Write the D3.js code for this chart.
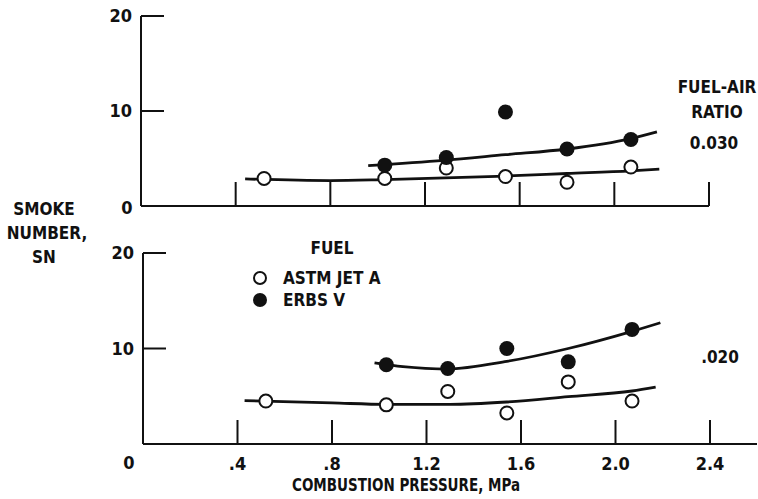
<!DOCTYPE html>
<html>
<head>
<meta charset="utf-8">
<script src="https://cdn.jsdelivr.net/npm/d3@7"></script>
<style>
  html, body { margin: 0; padding: 0; background: #fff; }
  svg text {
    font-family: "Liberation Sans Narrow", "DejaVu Sans Condensed", "Liberation Sans", sans-serif;
    font-weight: bold;
    fill: #111;
  }
</style>
</head>
<body>
<div id="chart"></div>
<script>
// measured points, combustion pressure (MPa) vs smoke number
const pressureAstm = [0.52, 1.03, 1.29, 1.54, 1.80, 2.07];
const pressureErbs = [1.03, 1.29, 1.54, 1.80, 2.07];

const smokeAstm030 = [2.9, 2.9, 4.0, 3.1, 2.5, 4.1];
const smokeErbs030 = [4.3, 5.1, 9.9, 6.0, 7.0];
const smokeAstm020 = [4.5, 4.1, 5.5, 3.25, 6.5, 4.5];
const smokeErbs020 = [8.3, 7.9, 10.0, 8.6, 12.0];

// faired curves
const fitAstm030X = [0.44, 0.8, 1.03, 1.54, 1.8, 2.07, 2.19];
const fitAstm030Y = [2.85, 2.68, 2.78, 3.15, 3.42, 3.7, 3.88];
const fitErbs030X = [0.96, 1.28, 1.54, 1.8, 2.07, 2.18];
const fitErbs030Y = [4.25, 4.8, 5.4, 6.0, 7.1, 7.8];
const fitAstm020X = [0.43, 0.8, 1.03, 1.3, 1.54, 1.8, 2.07, 2.17];
const fitAstm020Y = [4.55, 4.3, 4.15, 4.15, 4.4, 4.95, 5.55, 5.95];
const fitErbs020X = [0.98, 1.1, 1.285, 1.54, 1.8, 2.07, 2.19];
const fitErbs020Y = [8.5, 8.1, 7.85, 8.65, 10.0, 11.8, 12.7];

const xTicks = [0.4, 0.8, 1.2, 1.6, 2.0, 2.4];
const xTickLabels = [".4", ".8", "1.2", "1.6", "2.0", "2.4"];
const yTicks = [10, 20];

const width = 758, height = 499;

const svg = d3.select("#chart").append("svg")
    .attr("width", width)
    .attr("height", height);

const zip = (xs, ys) => xs.map((x, i) => [x, ys[i]]);

function drawPanel(opts) {
    const x = d3.scaleLinear().domain([0, 2.4]).range([opts.left, opts.right]);
    const y = d3.scaleLinear().domain([0, 20]).range([opts.bottom, opts.top]);
    const g = svg.append("g");

    // y axis line + inward ticks
    g.append("line")
        .attr("x1", x(0)).attr("x2", x(0))
        .attr("y1", y(20)).attr("y2", y(0))
        .attr("stroke", "#111").attr("stroke-width", 2);
    g.selectAll(".ytick").data(yTicks).join("line")
        .attr("x1", x(0)).attr("x2", x(0) + 23)
        .attr("y1", d => y(d)).attr("y2", d => y(d))
        .attr("stroke", "#111").attr("stroke-width", 2);
    g.selectAll(".ylab").data(yTicks).join("text")
        .attr("x", x(0) - 9).attr("y", d => y(d))
        .attr("dy", "0.36em")
        .attr("text-anchor", "end")
        .attr("font-size", 18)
        .text(d => d);

    // x axis line + upward ticks
    g.append("line")
        .attr("x1", x(0)).attr("x2", opts.axisEnd)
        .attr("y1", y(0)).attr("y2", y(0))
        .attr("stroke", "#111").attr("stroke-width", 2);
    g.selectAll(".xtick").data(xTicks).join("line")
        .attr("x1", d => x(d)).attr("x2", d => x(d))
        .attr("y1", y(0)).attr("y2", y(0) - 24)
        .attr("stroke", "#111").attr("stroke-width", 2);

    if (opts.xLabels) {
        g.selectAll(".xlab").data(xTicks).join("text")
            .attr("x", d => x(d)).attr("y", y(0) + 20)
            .attr("dy", "0.36em")
            .attr("text-anchor", "middle")
            .attr("font-size", 18)
            .text((d, i) => xTickLabels[i]);
    }
    g.append("text")
        .attr("x", x(0) - 14).attr("y", y(0) + opts.zeroDy)
        .attr("dy", "0.36em")
        .attr("text-anchor", "middle")
        .attr("font-size", 18)
        .text("0");

    const line = d3.line()
        .x(d => x(d[0])).y(d => y(d[1]))
        .curve(d3.curveMonotoneX);

    opts.fits.forEach(f => {
        g.append("path")
            .attr("d", line(f))
            .attr("fill", "none")
            .attr("stroke", "#111")
            .attr("stroke-width", 2.8);
    });

    g.selectAll(".astm").data(opts.astm).join("circle")
        .attr("cx", d => x(d[0])).attr("cy", d => y(d[1]))
        .attr("r", 6.5)
        .attr("fill", "#fff").attr("stroke", "#111").attr("stroke-width", 2);
    g.selectAll(".erbs").data(opts.erbs).join("circle")
        .attr("cx", d => x(d[0])).attr("cy", d => y(d[1]))
        .attr("r", 7.5)
        .attr("fill", "#111");
}

drawPanel({
    left: 141, right: 709, top: 16, bottom: 206, axisEnd: 709,
    xLabels: false, zeroDy: 2,
    fits: [zip(fitAstm030X, fitAstm030Y), zip(fitErbs030X, fitErbs030Y)],
    astm: zip(pressureAstm, smokeAstm030),
    erbs: zip(pressureErbs, smokeErbs030)
});

drawPanel({
    left: 143, right: 710, top: 253, bottom: 444, axisEnd: 757,
    xLabels: true, zeroDy: 19,
    fits: [zip(fitAstm020X, fitAstm020Y), zip(fitErbs020X, fitErbs020Y)],
    astm: zip(pressureAstm, smokeAstm020),
    erbs: zip(pressureErbs, smokeErbs020)
});

// y axis title
const yTitle = ["SMOKE", "NUMBER,", "SN"];
svg.selectAll(".ytitle").data(yTitle).join("text")
    .attr("x", (d, i) => i === 1 ? 47 : 44)
    .attr("y", (d, i) => 209 + i * 24)
    .attr("dy", "0.36em")
    .attr("text-anchor", "middle")
    .attr("font-size", 17)
    .text(d => d);

// x axis title
svg.append("text")
    .attr("x", 406).attr("y", 485)
    .attr("dy", "0.36em")
    .attr("text-anchor", "middle")
    .attr("font-size", 18)
    .attr("textLength", 228)
    .attr("lengthAdjust", "spacingAndGlyphs")
    .text("COMBUSTION PRESSURE, MPa");

// fuel-air ratio labels
const ratioLabels = [
    { t: "FUEL-AIR", x: 717, y: 87 },
    { t: "RATIO", x: 717, y: 112 },
    { t: "0.030", x: 714, y: 143 },
    { t: ".020", x: 720, y: 357 }
];
svg.selectAll(".ratio").data(ratioLabels).join("text")
    .attr("x", d => d.x).attr("y", d => d.y)
    .attr("dy", "0.36em")
    .attr("text-anchor", "middle")
    .attr("font-size", 17)
    .text(d => d.t);

// legend
const legend = svg.append("g");
legend.append("text")
    .attr("x", 332).attr("y", 248).attr("dy", "0.36em")
    .attr("text-anchor", "middle").attr("font-size", 17)
    .text("FUEL");
legend.append("circle")
    .attr("cx", 260).attr("cy", 278).attr("r", 6)
    .attr("fill", "#fff").attr("stroke", "#111").attr("stroke-width", 2);
legend.append("text")
    .attr("x", 283).attr("y", 278).attr("dy", "0.36em")
    .attr("font-size", 17).text("ASTM JET A");
legend.append("circle")
    .attr("cx", 260).attr("cy", 300).attr("r", 7)
    .attr("fill", "#111");
legend.append("text")
    .attr("x", 283).attr("y", 300).attr("dy", "0.36em")
    .attr("font-size", 17).text("ERBS V");
</script>
</body>
</html>
